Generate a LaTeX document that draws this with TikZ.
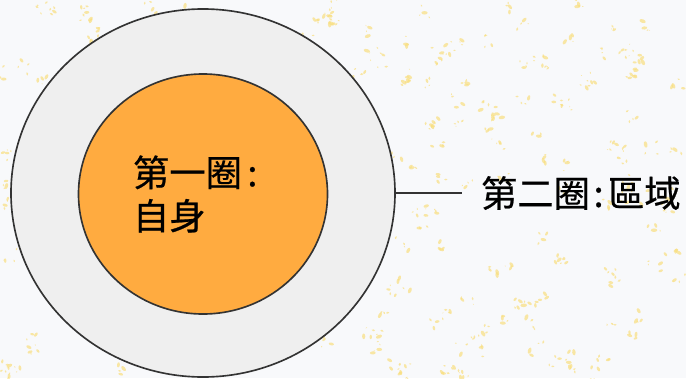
\documentclass[tikz,border=0pt]{standalone}
\usepackage{fontspec}
\setmainfont{Noto Sans CJK TC}[FakeBold=0.6]
\usetikzlibrary{shapes.geometric}
\definecolor{paper}{HTML}{F8F9FB}
\definecolor{speck}{HTML}{F8DF80}
\definecolor{ringgray}{HTML}{EFEFEF}
\definecolor{selforange}{HTML}{FFAB40}
\definecolor{inkline}{HTML}{333333}
\tikzset{
  ring/.style={ellipse, draw=inkline, line width=1.4pt, inner sep=0pt},
  ringtext/.style={font=\fontsize{31}{37}\selectfont, text=black},
}
\begin{document}
\begin{tikzpicture}[x=0.03cm, y=-0.03cm] % one unit is one pixel
%background
\fill[paper] (0,0) rectangle (686,378);
\useasboundingbox (0,0) rectangle (686,378);
%specks, in little clusters
\pgfmathsetseed{7}
\foreach \i in {1,...,260}{
  \pgfmathsetmacro{\cx}{rnd*686}
  \pgfmathsetmacro{\cy}{rnd*378}
  \foreach \j in {1,...,4}{
    \pgfmathsetmacro{\sx}{\cx+rand*7}
    \pgfmathsetmacro{\sy}{\cy+rand*7}
    \pgfmathsetmacro{\sr}{0.7+rnd*2.6}
    \pgfmathsetmacro{\sa}{rnd*180}
    \fill[speck, opacity=0.7, rotate around={\sa:(\sx,\sy)}] (\sx,\sy) ellipse [x radius=\sr, y radius=0.55*\sr];
  }
}
%rings
\node[ring, fill=ringgray, minimum width=11.52cm, minimum height=11.04cm] (outer) at (203,193) {};
\node[ring, fill=selforange, minimum width=7.47cm, minimum height=7.2cm, ringtext, align=left, text width=4.2cm] (self) at (203,194) {第一圈\hspace{0.15em}:\\自身};
%label
\node[ringtext, anchor=west, inner xsep=16pt, inner ysep=0pt] (region) at (462,193) {第二圈\hspace{0.1em}:\hspace{0.12em}區域};
\draw[inkline, line width=1.4pt] (outer.east) -- (region.west);
\end{tikzpicture}
\end{document}
